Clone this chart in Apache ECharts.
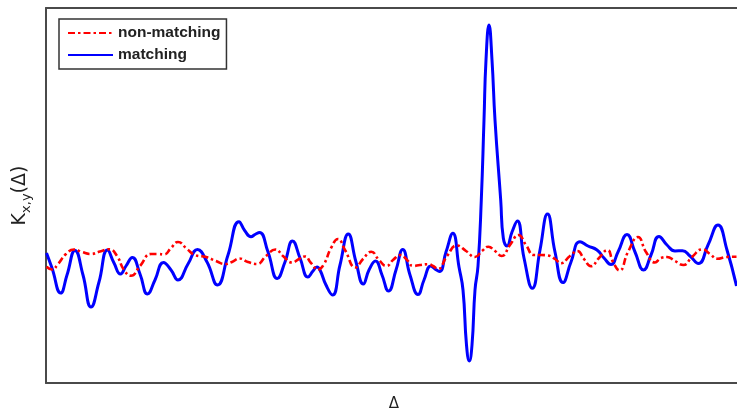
<!DOCTYPE html>
<html>
<head>
<meta charset="utf-8">
<script src="https://cdn.jsdelivr.net/npm/echarts@6/dist/echarts.min.js"></script>
<style>html,body{margin:0;padding:0;background:#fff;}#c{width:737px;height:411px;}</style>
</head>
<body>
<div id="c"></div>
<script>
// lag (arbitrary units) and correlation K (arbitrary units)
const matchingLag = [0.5,6,14.7,21,29,37,45,53,61.5,68,74.5,80,86.3,94,101.5,109,117.5,125,132,142,151.5,161,171.5,182,193,199,205,209,213.5,222,231.3,239,246.5,254,262,267,271,274,280,286.5,294,302.3,310,317.3,323,329.5,336,342.5,350,356.7,364,372,378,384.8,389,393.5,400,406.8,413,417,420.5,423.3,426,429,432,435.3,438,440,443,446,449,454.7,457.3,461,466,471.3,478,486.3,494,501.5,509,517,525,534,542,551,558,565,572,581,589,597.5,605,613,621,629,636.5,644,652.5,662,672,681,690.5];
const matchingK = [130,115,90,108,132.5,108,76,101,133,120,109,117,125.5,109,89,103,120.5,113,103,119,133.5,121,98,128,161.3,152,146.3,148.5,150.5,131,104.5,121,142,125,106,112,116,113,98,88,118,149,121,99,113,122,108,92,113,133.5,108,88.5,103,117,114,111.5,131,149.7,116,93,38,22,38,93,117,183,263,323,358,323,263,183,145,137,151,162,125,94.7,133,169,131,100.5,121,141.3,137,133,125,118.5,131,148.5,131,113,128,146.5,138,132,132.3,127,119.5,138,158,133,97];
const nonMatchingLag = [0.5,6,12,20,28,36,44.5,54,63.5,71,78,85,94,105,112,118,125,132,141,149,160,170,179,186,193.5,202,211,220,229.5,237,246,253,259,265,272,278,285,292,299,309.5,317,325.3,333,340.5,347,354.5,361,367,374,382.5,387,392,401,411,420,429,436,442.3,449,455.7,464,472.5,480,488,495,502,509,515,524,531.5,538,545,553,561.5,567,573.5,582,592,600,609,615,621,629,637.5,646,656.5,664,671.5,680,690.5];
const nonMatchingK = [116.3,113.5,119,129,133.5,131,129,131.5,133.7,127,113,107.2,117,129,129,128.5,135,141,134,128,126,122,119,121,124.5,121,119,127,133.5,127,120.5,124,126.5,120,113.5,119,135,144,133,115.5,124,131.3,123,117,123,128,123,117,118,118.8,117,114,127,137.5,132,126,132,136.3,132,127,138,148,138,128,128,127.5,124,119.7,127,132,124,116.7,125,133,121,112.5,131,146,131,120.5,125,126,122,118,126,133.7,129,124.3,126,126.3];
const seriesNames = ['non-matching', 'matching'];
const xName = 'Δ';

const zip = (a, b) => a.map((v, i) => [v, b[i]]);
const chart = echarts.init(document.getElementById('c'), null, {renderer: 'canvas'});
const axisLine = {show: true, lineStyle: {color: '#4a4a4a', width: 2}};
chart.setOption({
  animation: false,
  backgroundColor: '#fff',
  grid: {left: 46, right: 0, top: 8, bottom: 28, outerBoundsMode: 'none', containLabel: false},
  legend: {
    orient: 'vertical', left: 59, top: 19,
    data: seriesNames,
    padding: [6, 6, 6, 8], itemGap: 6, itemWidth: 45, itemHeight: 16,
    borderColor: '#333', borderWidth: 1.5,
    itemStyle: {opacity: 0},
    textStyle: {fontFamily: 'Liberation Sans', fontWeight: 'bold', fontSize: 15.5, color: '#222', lineHeight: 16}
  },
  xAxis: [{
    type: 'value', min: 0, max: 691,
    name: xName, nameLocation: 'middle', nameGap: 14,
    nameTextStyle: {fontFamily: 'DejaVu Sans', fontSize: 15, color: '#222', padding: [0, 0, 0, 5]},
    axisLine: axisLine, axisTick: {show: false}, axisLabel: {show: false}, splitLine: {show: false}
  }, {
    type: 'value', min: 0, max: 691, position: 'top',
    axisLine: axisLine, axisTick: {show: false}, axisLabel: {show: false}, splitLine: {show: false}
  }],
  yAxis: {
    type: 'value', min: 0, max: 375,
    name: '{a|K}{b|x,y}{a|(Δ)}', nameLocation: 'middle', nameGap: 13,
    nameTextStyle: {
      color: '#222',
      rich: {
        a: {fontFamily: 'DejaVu Sans', fontSize: 19, color: '#222', lineHeight: 22, verticalAlign: 'top'},
        b: {fontFamily: 'DejaVu Sans', fontSize: 13, color: '#222', lineHeight: 12, verticalAlign: 'bottom'}
      }
    },
    axisLine: axisLine, axisTick: {show: false}, axisLabel: {show: false}, splitLine: {show: false}
  },
  series: [{
    name: seriesNames[0], type: 'line', data: zip(nonMatchingLag, nonMatchingK),
    smooth: 0.5, symbol: 'none', z: 3,
    lineStyle: {color: '#ff0000', width: 2.6, type: [7, 3, 2.5, 3]},
    itemStyle: {color: '#ff0000'}
  }, {
    name: seriesNames[1], type: 'line', data: zip(matchingLag, matchingK),
    smooth: 0.5, symbol: 'none', z: 2,
    lineStyle: {color: '#0000ff', width: 3},
    itemStyle: {color: '#0000ff'}
  }]
});
</script>
</body>
</html>
